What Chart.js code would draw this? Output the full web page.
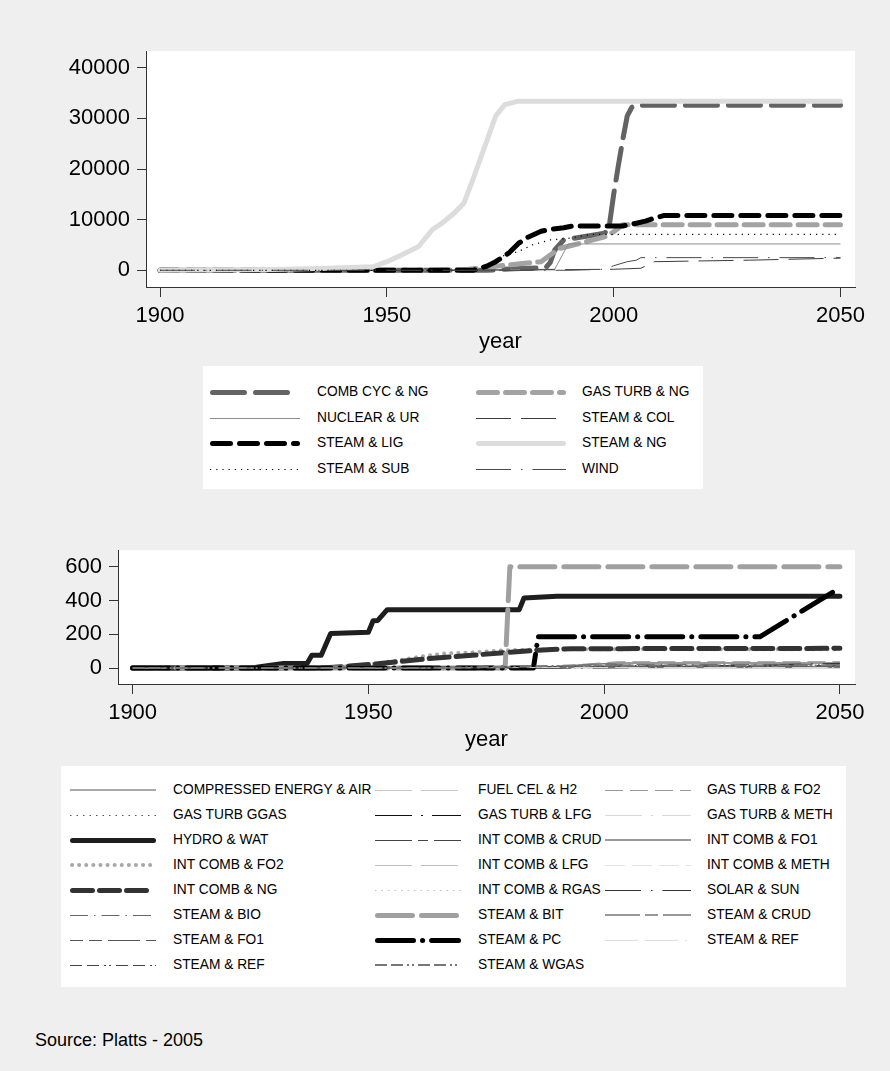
<!DOCTYPE html>
<html>
<head>
<meta charset="utf-8">
<script src="https://cdn.jsdelivr.net/npm/chart.js@4.4.1/dist/chart.umd.min.js"></script>
<style>
  body { margin: 0; background: #efefef; font-family: "Liberation Sans", Arial, sans-serif; }
  #page { position: relative; width: 890px; height: 1071px; overflow: hidden; }
  canvas { position: absolute; left: 0; }
  .legend { position: absolute; background: #fff; }
  .sample { position: absolute; overflow: visible; }
  .label { position: absolute; font-size: 13.75px; line-height: 16px; white-space: nowrap; color: #000; }
  #source { position: absolute; left: 35px; top: 1030px; font-size: 18px; line-height: 20px; color: #000; }
</style>
</head>
<body>
<div id="page">
  <canvas id="topChart" width="890" height="360" style="top:0px"></canvas>
  <div class="legend" id="topLegend" style="left:203px; top:366px; width:500px; height:123px"></div>
  <canvas id="bottomChart" width="890" height="230" style="top:530px"></canvas>
  <div class="legend" id="bottomLegend" style="left:61px; top:766px; width:785px; height:221px"></div>
  <div id="source">Source: Platts - 2005</div>
</div>
<script>
// axis ticks
const xTicks = [1900, 1950, 2000, 2050]
const topYTicks = [0, 10000, 20000, 30000, 40000]
const bottomYTicks = [0, 200, 400, 600]

// large technologies: [year, capacity]
const topLabels = ['COMB CYC & NG', 'GAS TURB & NG', 'NUCLEAR & UR', 'STEAM & COL',
  'STEAM & LIG', 'STEAM & NG', 'STEAM & SUB', 'WIND']
const combCycNg = [[1900, 0], [1972, 0], [1978, 300], [1985, 500], [1986, 1500], [1987, 4000], [1989, 6000],
  [1998, 7300], [1999, 8600], [2000, 15000], [2001, 20500], [2002, 25800], [2003, 30500], [2004, 32200],
  [2005, 32600], [2050, 32600]]
const gasTurbNg = [[1900, 0], [1960, 0], [1968, 200], [1972, 600], [1976, 1000], [1984, 1700], [1986, 3000],
  [1988, 4300], [1992, 5200], [1998, 6600], [2000, 7600], [2002, 9000], [2050, 9000]]
const nuclearUr = [[1900, 0], [1970, 0], [1973, 100], [1987, 200], [1990, 5200], [2050, 5200]]
const steamCol = [[1900, 0], [1960, 0], [1985, 100], [2000, 200], [2006, 400], [2009, 1700], [2030, 2000],
  [2050, 2400]]
const steamLig = [[1900, 0], [1969, 0], [1972, 800], [1974, 1700], [1977, 3500], [1979, 5300], [1981, 6500],
  [1984, 7700], [1986, 8100], [1989, 8400], [1991, 8750], [2002, 8750], [2005, 9300], [2007, 9700],
  [2009, 10300], [2011, 10800], [2050, 10800]]
const steamNg = [[1900, 0], [1925, 150], [1935, 350], [1947, 700], [1950, 1700], [1953, 2900], [1957, 4700],
  [1960, 8000], [1962, 9200], [1965, 11400], [1967, 13300], [1969, 18000], [1971, 23000], [1974, 30500],
  [1976, 32700], [1979, 33400], [2050, 33400]]
const steamSub = [[1900, 0], [1970, 0], [1973, 1200], [1975, 2700], [1979, 3700], [1982, 5000], [1986, 6000],
  [1990, 6300], [1995, 7100], [2050, 7100]]
const wind = [[1900, 0], [1990, 0], [1998, 200], [2000, 900], [2003, 1700], [2005, 2000], [2006, 2500],
  [2050, 2500]]

// smaller technologies: [year, capacity]
const bottomLabels = ['COMPRESSED ENERGY & AIR', 'FUEL CEL & H2', 'GAS TURB & FO2',
  'GAS TURB GGAS', 'GAS TURB & LFG', 'GAS TURB & METH',
  'HYDRO & WAT', 'INT COMB & CRUD', 'INT COMB & FO1',
  'INT COMB & FO2', 'INT COMB & LFG', 'INT COMB & METH',
  'INT COMB & NG', 'INT COMB & RGAS', 'SOLAR & SUN',
  'STEAM & BIO', 'STEAM & BIT', 'STEAM & CRUD',
  'STEAM & FO1', 'STEAM & PC', 'STEAM & REF',
  'STEAM & REF', 'STEAM & WGAS']
const compressedAir = [[1900, 0], [1990, 0], [1991, 3], [2050, 3]]
const fuelCelH2 = [[1900, 0], [1995, 0], [2003, 1], [2050, 1]]
const gasTurbFo2 = [[1900, 0], [1960, 0], [1970, 2], [1986, 6], [1995, 22], [2003, 38], [2050, 38]]
const gasTurbGgas = [[1900, 0], [1990, 0], [2000, 4], [2050, 4]]
const gasTurbLfg = [[1900, 0], [1988, 0], [2000, 10], [2005, 14], [2050, 14]]
const gasTurbMeth = [[1900, 0], [1995, 0], [2002, 2], [2050, 2]]
const hydroWat = [[1900, 0], [1925, 0], [1927, 8], [1932, 28], [1937, 28], [1938, 76], [1940, 76], [1942, 205],
  [1950, 212], [1951, 280], [1952, 282], [1954, 346], [1982, 346], [1983, 415], [1990, 425], [2050, 425]]
const intCombCrud = [[1900, 0], [1960, 0], [1990, 3], [2003, 8], [2050, 8]]
const intCombFo1 = [[1900, 0], [1986, 0], [1995, 18], [2003, 30], [2050, 30]]
const intCombFo2 = [[1900, 0], [1935, 0], [1945, 10], [1950, 20], [1956, 45], [1962, 72], [1966, 86],
  [1972, 93], [1979, 106], [1990, 112], [2050, 112]]
const intCombLfg = [[1900, 0], [1990, 0], [2003, 20], [2050, 20]]
const intCombMeth = [[1900, 0], [1995, 0], [2003, 5], [2050, 5]]
const intCombNg = [[1900, 0], [1940, 0], [1946, 12], [1951, 23], [1956, 37], [1963, 57], [1972, 76],
  [1978, 90], [1986, 106], [1993, 115], [2050, 117]]
const intCombRgas = [[1900, 0], [1990, 0], [2003, 6], [2050, 6]]
const solarSun = [[1900, 0], [1990, 0], [2005, 3], [2050, 28]]
const steamBio = [[1900, 0], [1980, 0], [1990, 10], [2003, 22], [2050, 22]]
const steamBit = [[1900, 0], [1979, 0], [1980, 600], [2050, 600]]
const steamCrud = [[1900, 0], [1950, 0], [1960, 3], [1980, 5], [2050, 5]]
const steamFo1 = [[1900, 0], [1930, 5], [1960, 8], [1985, 10], [2050, 10]]
const steamPc = [[1900, 0], [1985, 0], [1986, 185], [2033, 185], [2050, 475]]
const steamRefA = [[1900, 0], [1960, 0], [1990, 4], [2050, 4]]
const steamRefB = [[1900, 0], [1970, 0], [1995, 12], [2050, 12]]
const steamWgas = [[1900, 0], [1960, 0], [1995, 15], [2050, 15]]

const topSeries = [combCycNg, gasTurbNg, nuclearUr, steamCol, steamLig, steamNg, steamSub, wind]
const bottomSeries = [compressedAir, fuelCelH2, gasTurbFo2, gasTurbGgas, gasTurbLfg, gasTurbMeth,
  hydroWat, intCombCrud, intCombFo1, intCombFo2, intCombLfg, intCombMeth, intCombNg, intCombRgas,
  solarSun, steamBio, steamBit, steamCrud, steamFo1, steamPc, steamRefA, steamRefB, steamWgas]

// line looks
const topStyles = [
  {color: '#636363', width: 5, dash: [32, 11]},
  {color: '#a3a3a3', width: 5, dash: [19, 8]},
  {color: '#8c8c8c', width: 1, dash: []},
  {color: '#3c3c3c', width: 1, dash: [35, 10]},
  {color: '#000000', width: 5, dash: [18, 9]},
  {color: '#dcdcdc', width: 5, dash: []},
  {color: '#000000', width: 1.2, dash: [1.2, 5]},
  {color: '#4a4a4a', width: 1, dash: [35, 10, 1.5, 10]}
]
const bottomStyles = [
  {color: '#8c8c8c', width: 1.5, dash: []},
  {color: '#c8c8c8', width: 1, dash: [37, 9]},
  {color: '#9a9a9a', width: 1, dash: [18, 7]},
  {color: '#555555', width: 1, dash: [1.5, 5]},
  {color: '#111111', width: 1, dash: [37, 9, 2, 9]},
  {color: '#d8d8d8', width: 1, dash: [37, 9, 2, 9]},
  {color: '#1e1e1e', width: 5, dash: []},
  {color: '#444444', width: 1, dash: [37, 6, 10, 6]},
  {color: '#7a7a7a', width: 1.5, dash: []},
  {color: '#a8a8a8', width: 4, dash: [0.1, 7]},
  {color: '#c0c0c0', width: 1, dash: [37, 9]},
  {color: '#e2e2e2', width: 1, dash: [20, 7]},
  {color: '#333333', width: 5, dash: [20, 7]},
  {color: '#c0c0c0', width: 1, dash: [1.5, 5]},
  {color: '#333333', width: 1.2, dash: [36, 10, 1.5, 10]},
  {color: '#666666', width: 1, dash: [18, 6, 1.5, 6]},
  {color: '#a0a0a0', width: 5, dash: [35, 9]},
  {color: '#777777', width: 1.5, dash: [35, 5, 13, 5]},
  {color: '#555555', width: 1, dash: [13, 6, 13, 6, 32, 6]},
  {color: '#000000', width: 5, dash: [36, 9, 0.1, 9]},
  {color: '#dcdcdc', width: 1, dash: [33, 7, 33, 7, 1.5, 7]},
  {color: '#444444', width: 1, dash: [12, 5, 12, 5, 2, 3, 2, 5]},
  {color: '#777777', width: 2, dash: [12, 4, 12, 4, 2, 3, 2, 4]}
]

Chart.defaults.font.family = '"Liberation Sans", Arial, sans-serif'
Chart.defaults.color = '#000'

// white plot region behind the lines
const plotBackground = {
  id: 'plotBackground',
  beforeDraw(chart) {
    const {ctx, chartArea: a} = chart
    ctx.save()
    ctx.fillStyle = '#fff'
    ctx.fillRect(a.left, a.top, a.right - a.left, a.bottom - a.top)
    ctx.restore()
  }
}

function makeDatasets(labels, series, styles) {
  // later series are drawn on top
  return labels.map((label, i) => ({
    label,
    data: series[i].map(([x, y]) => ({x, y})),
    borderColor: styles[i].color,
    borderWidth: styles[i].width,
    borderDash: styles[i].dash,
    borderCapStyle: styles[i].width > 3 ? 'round' : 'butt',
    borderJoinStyle: 'round',
    pointRadius: 0,
    fill: false,
    tension: 0,
    order: -i
  }))
}

function makeChart(id, datasets, yTicks, o) {
  return new Chart(document.getElementById(id), {
    type: 'line',
    data: {datasets},
    options: {
      responsive: false,
      animation: false,
      layout: {padding: {left: 0, top: o.top, right: 35, bottom: 0}},
      plugins: {legend: {display: false}, tooltip: {enabled: false}},
      scales: {
        x: {
          type: 'linear',
          min: 1896.9,
          max: 2053.2,
          afterBuildTicks: axis => { axis.ticks = xTicks.map(value => ({value})) },
          afterFit: axis => { axis.height = o.xHeight },
          grid: {drawOnChartArea: false, tickLength: 10, color: '#333'},
          border: {color: '#333'},
          ticks: {font: {size: 22}, color: '#000', padding: 6, maxRotation: 0, callback: v => String(v)},
          title: {display: true, text: 'year', font: {size: 22}, color: '#000',
            padding: {top: 0, bottom: o.titlePad}}
        },
        y: {
          type: 'linear',
          min: o.yMin,
          max: o.yMax,
          afterBuildTicks: axis => { axis.ticks = yTicks.map(value => ({value})) },
          afterFit: axis => { axis.width = o.yWidth },
          grid: {drawOnChartArea: false, tickLength: 9, color: '#333'},
          border: {color: '#333'},
          ticks: {font: {size: 22}, color: '#000', padding: 7, callback: v => String(v)}
        }
      }
    },
    plugins: [plotBackground]
  })
}

makeChart('topChart', makeDatasets(topLabels, topSeries, topStyles), topYTicks,
  {top: 51, xHeight: 73, titlePad: 5, yWidth: 146, yMin: -3300, yMax: 43300})
makeChart('bottomChart', makeDatasets(bottomLabels, bottomSeries, bottomStyles), bottomYTicks,
  {top: 19, xHeight: 76, titlePad: 7, yWidth: 118, yMin: -94, yMax: 698})

// legends: sample line + text, row by row
function buildLegend(boxId, labels, styles, lay) {
  const box = document.getElementById(boxId)
  const bx = box.offsetLeft, by = box.offsetTop
  const ns = 'http://www.w3.org/2000/svg'
  labels.forEach((label, i) => {
    const col = i % lay.sampleX.length
    const row = Math.floor(i / lay.sampleX.length)
    const cy = lay.firstRow + row * lay.rowStep
    const s = styles[i]
    const svg = document.createElementNS(ns, 'svg')
    svg.setAttribute('class', 'sample')
    svg.setAttribute('width', lay.sampleW)
    svg.setAttribute('height', 12)
    svg.style.left = (lay.sampleX[col] - bx) + 'px'
    svg.style.top = Math.round(cy - 6 - by) + 'px'
    const line = document.createElementNS(ns, 'line')
    const cap = s.width > 3 ? s.width / 2 : 0
    // odd widths sit on half pixels so thin lines stay crisp
    const ly = 6 + (Math.round(s.width) % 2 ? 0.5 : 0)
    line.setAttribute('x1', cap)
    line.setAttribute('x2', lay.sampleW - cap)
    line.setAttribute('y1', ly)
    line.setAttribute('y2', ly)
    line.setAttribute('stroke', s.color)
    line.setAttribute('stroke-width', s.width)
    line.setAttribute('stroke-linecap', s.width > 3 ? 'round' : 'butt')
    if (s.dash.length) line.setAttribute('stroke-dasharray', s.dash.join(' '))
    svg.appendChild(line)
    box.appendChild(svg)
    const span = document.createElement('div')
    span.className = 'label'
    span.textContent = label
    span.style.left = (lay.labelX[col] - bx) + 'px'
    span.style.top = (cy - 8 - by) + 'px'
    box.appendChild(span)
  })
}

buildLegend('topLegend', topLabels, topStyles,
  {sampleX: [210, 476], labelX: [317, 582], firstRow: 392, rowStep: 25.5, sampleW: 90})
buildLegend('bottomLegend', bottomLabels, bottomStyles,
  {sampleX: [70, 375, 605], labelX: [173, 478, 707], firstRow: 790, rowStep: 25, sampleW: 86})
</script>
</body>
</html>
